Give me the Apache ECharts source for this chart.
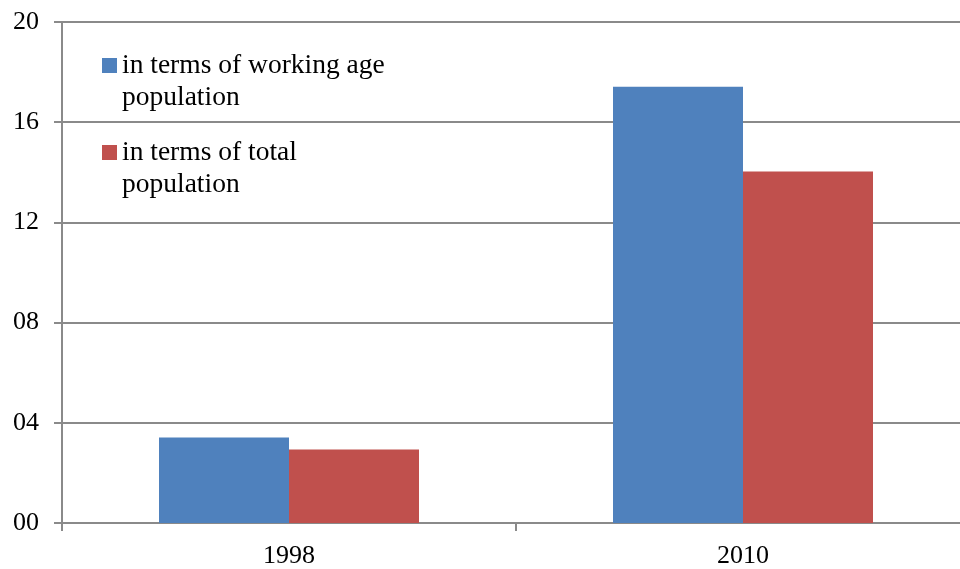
<!DOCTYPE html>
<html>
<head>
<meta charset="utf-8">
<script src="https://cdn.jsdelivr.net/npm/echarts@6/dist/echarts.min.js"></script>
<style>
html,body{margin:0;padding:0;background:#fff;overflow:hidden;width:960px;height:569px;}
#chart{width:970px;height:569px;}
</style>
</head>
<body>
<div id="chart"></div>
<script>
var categories = ['1998', '2010'];
var seriesNames = ['in terms of working age\npopulation', 'in terms of total\npopulation'];
var workingAge = [3.41, 17.42];
var totalPop = [2.93, 14.03];
var yTicks = [0, 4, 8, 12, 16, 20];

var FONT = '"Liberation Serif", "Times New Roman", serif';
var LINE = '#8a8a8a';
var chart = echarts.init(document.getElementById('chart'), null, {renderer: 'canvas'});
chart.setOption({
  backgroundColor: '#ffffff',
  animation: false,
  textStyle: {fontFamily: FONT},
  grid: {left: 62, right: 0, top: 22, bottom: 45.5, containLabel: false},
  legend: {
    orient: 'vertical',
    left: 102,
    top: 17.5,
    padding: 0,
    itemGap: -9,
    itemWidth: 15,
    itemHeight: 15,
    icon: 'rect',
    data: seriesNames,
    formatter: function (name) { return '\n' + name; },
    textStyle: {fontFamily: FONT, fontSize: 27.5, color: '#000', lineHeight: 32}
  },
  xAxis: {
    type: 'category',
    data: categories,
    axisLine: {lineStyle: {color: LINE, width: 2}},
    axisTick: {show: true, length: 8, lineStyle: {color: LINE, width: 2}},
    axisLabel: {fontFamily: FONT, fontSize: 26, color: '#000', margin: 20},
    splitLine: {show: false}
  },
  yAxis: {
    type: 'value',
    min: yTicks[0],
    max: yTicks[yTicks.length - 1],
    interval: 4,
    axisLine: {show: true, lineStyle: {color: LINE, width: 2}},
    axisTick: {show: true, length: 8, lineStyle: {color: LINE, width: 2}},
    axisLabel: {
      fontFamily: FONT, fontSize: 26, color: '#000', margin: 23,
      formatter: function (v) { return (v < 10 ? '0' : '') + v; }
    },
    splitLine: {show: true, lineStyle: {color: LINE, width: 2}}
  },
  series: [
    {name: seriesNames[0], type: 'bar', data: workingAge, barWidth: 130, barGap: '0%',
     itemStyle: {color: '#4F81BD'}},
    {name: seriesNames[1], type: 'bar', data: totalPop, barWidth: 130, barGap: '0%',
     itemStyle: {color: '#C0504D'}}
  ]
});
</script>
</body>
</html>
